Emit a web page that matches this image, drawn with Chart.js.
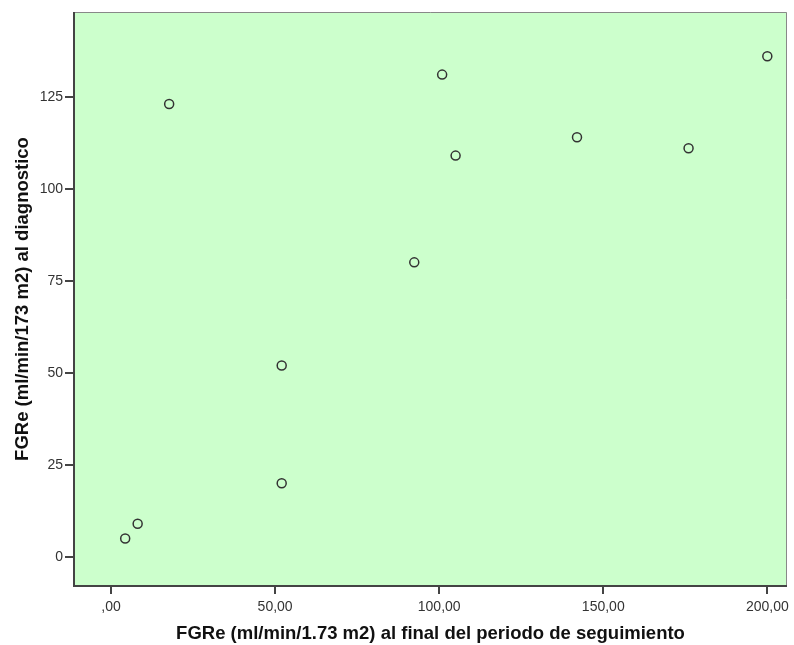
<!DOCTYPE html>
<html>
<head>
<meta charset="utf-8">
<script src="https://cdn.jsdelivr.net/npm/chart.js@4/dist/chart.umd.min.js"></script>
<style>
    html, body { margin: 0; padding: 0; background: #fff; }
    #chartContainer { width: 794px; height: 645px; }
</style>
</head>
<body>
<div id="chartContainer"><canvas id="fgrChart"></canvas></div>
<script>
// Data
const fgrFinal = [4.3, 8.1, 17.7, 52, 52, 92.4, 100.9, 105, 142, 176, 200];
const fgrDiagnostico = [5, 9, 123, 52, 20, 80, 131, 109, 114, 111, 136];

const xTicks = [0, 50, 100, 150, 200];
const xTickLabels = [",00", "50,00", "100,00", "150,00", "200,00"];
const yTicks = [0, 25, 50, 75, 100, 125];
const yTickLabels = ["0", "25", "50", "75", "100", "125"];

const xTitle = "FGRe (ml/min/1.73 m2) al final del periodo de seguimiento";
const yTitle = "FGRe (ml/min/173 m2) al diagnostico";

document.addEventListener("DOMContentLoaded", function () {
    const points = fgrFinal.map((x, i) => ({ x: x, y: fgrDiagnostico[i] }));

    // green plot background + frame
    const plotFrame = {
        id: "plotFrame",
        beforeDraw(chart) {
            const a = chart.chartArea;
            const c = chart.ctx;
            c.save();
            c.fillStyle = "#CCFFCC";
            c.fillRect(a.left, a.top, a.right - a.left, a.bottom - a.top);
            c.restore();
        },
        afterDraw(chart) {
            const a = chart.chartArea;
            const c = chart.ctx;
            c.save();
            c.strokeStyle = "#888";
            c.lineWidth = 1;
            c.beginPath();
            c.moveTo(a.left, a.top + 0.5);
            c.lineTo(a.right - 0.5, a.top + 0.5);
            c.lineTo(a.right - 0.5, a.bottom);
            c.stroke();
            c.strokeStyle = "#444";
            c.lineWidth = 2;
            c.beginPath();
            c.moveTo(a.left, a.top);
            c.lineTo(a.left, a.bottom);
            c.lineTo(a.right, a.bottom);
            c.stroke();
            c.restore();
        }
    };

    const tickFont = { family: "'Liberation Sans', Arial, sans-serif", size: 14 };
    const titleFont = { family: "'Liberation Sans', Arial, sans-serif", size: 18.5, weight: "bold" };

    const ctx = document.getElementById("fgrChart").getContext("2d");
    new Chart(ctx, {
        type: "scatter",
        data: {
            datasets: [{
                data: points,
                pointRadius: 4.5,
                pointHoverRadius: 4.5,
                pointBorderWidth: 1.5,
                borderColor: "#333",
                backgroundColor: "rgba(0,0,0,0)",
                pointBackgroundColor: "rgba(0,0,0,0)"
            }]
        },
        options: {
            responsive: true,
            maintainAspectRatio: false,
            animation: false,
            layout: { padding: { top: 12, right: 7, left: 0, bottom: 0 } },
            plugins: {
                legend: { display: false },
                tooltip: { enabled: false }
            },
            scales: {
                x: {
                    type: "linear",
                    min: -11.3,
                    max: 206,
                    afterBuildTicks: s => { s.ticks = xTicks.map(v => ({ value: v })); },
                    afterFit: s => { s.height = 59; },
                    grid: { drawOnChartArea: false, drawTicks: true, tickLength: 8, color: "#444", lineWidth: 2 },
                    border: { display: false },
                    ticks: {
                        color: "#333",
                        font: tickFont,
                        padding: 5,
                        maxRotation: 0,
                        callback: v => xTickLabels[xTicks.indexOf(v)]
                    },
                    title: {
                        display: true,
                        text: xTitle,
                        color: "#111",
                        font: titleFont,
                        padding: { top: 0, bottom: 0 }
                    }
                },
                y: {
                    type: "linear",
                    min: -7.9,
                    max: 148,
                    afterBuildTicks: s => { s.ticks = yTicks.map(v => ({ value: v })); },
                    afterFit: s => { s.width = 74; },
                    grid: { drawOnChartArea: false, drawTicks: true, tickLength: 9, color: "#444", lineWidth: 2 },
                    border: { display: false },
                    ticks: {
                        color: "#333",
                        font: tickFont,
                        padding: 2,
                        callback: v => yTickLabels[yTicks.indexOf(v)]
                    },
                    title: {
                        display: true,
                        text: yTitle,
                        color: "#111",
                        font: titleFont,
                        padding: { top: 12, bottom: 0 }
                    }
                }
            }
        },
        plugins: [plotFrame]
    });
});
</script>
</body>
</html>
